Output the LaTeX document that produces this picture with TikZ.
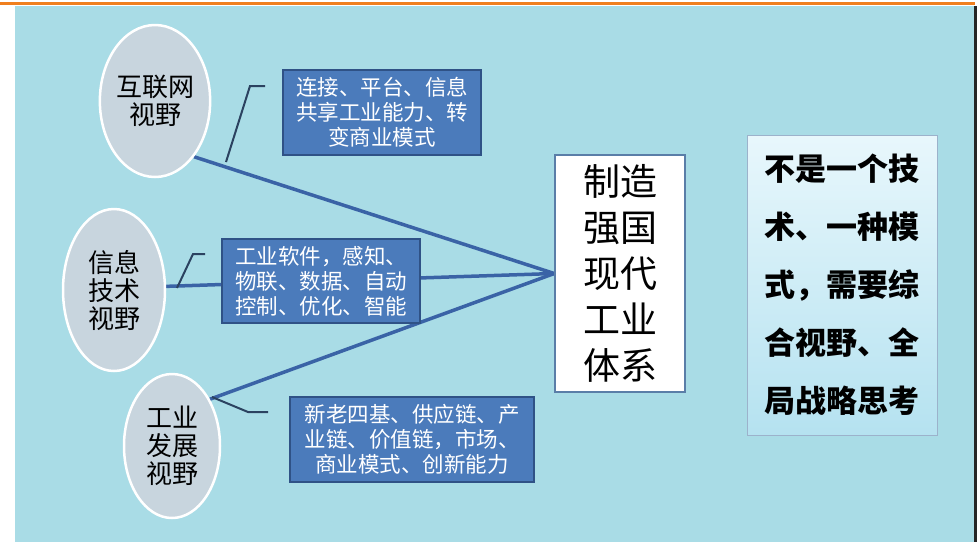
\documentclass[tikz,border=0pt]{standalone}
\usepackage{fontspec}
\newfontfamily\cjk{Noto Sans CJK SC}
\usetikzlibrary{shapes.geometric}
\definecolor{bgcol}{HTML}{A9DCE6}
\definecolor{orangeline}{HTML}{F07F1E}
\definecolor{ellfill}{HTML}{C8D5DE}
\definecolor{boxfill}{HTML}{4B7BBB}
\definecolor{boxedge}{HTML}{2F5286}
\definecolor{linecol}{HTML}{3A63A6}
\definecolor{brackcol}{HTML}{2B4260}
\definecolor{cedge}{HTML}{5A7EA8}
\definecolor{rtop}{HTML}{E8F7FC}
\definecolor{rbot}{HTML}{B5E2F0}
\pgfdeclarelayer{back}
\pgfdeclarelayer{lines}
\pgfsetlayers{back,lines,main}
\tikzset{
  persp/.style={ellipse, draw=white, line width=2.5pt, fill=ellfill, inner sep=0pt,
    align=center, text=black, font=\cjk\fontsize{26}{28}\selectfont},
  bluebox/.style={rectangle, draw=boxedge, line width=1.5pt, fill=boxfill, inner sep=0pt,
    text=white, font=\cjk\fontsize{21.5}{25}\selectfont},
  conn/.style={draw=linecol, line width=3.5pt},
  brack/.style={draw=brackcol, line width=2pt},
}
\begin{document}
\begin{tikzpicture}[x=1pt,y=-1pt]
\useasboundingbox (0,0) rectangle (979,542);
\begin{pgfonlayer}{back}
\fill[white] (0,0) rectangle (979,542);
\fill[bgcol] (15,6) rectangle (974,542);
\fill[black!85] (974,6) rectangle (977,542);
\draw[orangeline, line width=3pt] (0,3.5) -- (975,3.5);
\end{pgfonlayer}

% perspectives
\node[persp, minimum width=104pt, minimum height=152pt] (e1) at (155,101) {互联网\\视野};
\node[persp, minimum width=102pt, minimum height=162pt] (e2) at (114,290) {信息\\技术\\视野};
\node[persp, minimum width=96pt, minimum height=144pt] (e3) at (172,446) {工业\\发展\\视野};

% blue boxes
\node[bluebox, minimum width=198pt, minimum height=85pt, align=center] (b1) at (382,112.5)
  {连接、平台、信息\\共享工业能力、转\\变商业模式};
\node[bluebox, minimum width=198pt, minimum height=84pt, align=left] (b2) at (321,281)
  {工业软件，感知、\\物联、数据、自动\\控制、优化、智能};
\node[bluebox, minimum width=244pt, minimum height=85pt, align=center] (b3) at (412,439.5)
  {新老四基、供应链、产\\业链、价值链，市场、\\商业模式、创新能力};

% centre box
\node[rectangle, draw=cedge, line width=1.5pt, fill=white, minimum width=130pt,
  minimum height=237pt, inner sep=0pt, align=center,
  font=\cjk\fontsize{37}{46}\selectfont] (c) at (620,273.5)
  {制造\\强国\\现代\\工业\\体系};

% right box
\node[rectangle, draw=cedge!60, line width=1pt, top color=rtop, bottom color=rbot,
  minimum width=190pt, minimum height=300pt, inner sep=0pt, align=left,
  font=\cjk\bfseries\fontsize{31}{58}\selectfont] (r) at (842,285)
  {不是一个技\\术、一种模\\式，需要综\\合视野、全\\局战略思考};

% connectors
\begin{pgfonlayer}{lines}
\draw[conn] (e1.-55) -- (c.west);
\draw[conn] (e2.4) -- (c.west);
\draw[conn] (e3.51) -- (c.west);
\coordinate (k1a) at (226,162);
\coordinate (k1b) at (250,86);
\coordinate (k1c) at (265,86);
\coordinate (k2a) at (177,288);
\coordinate (k2b) at (193,254);
\coordinate (k2c) at (205,254);
\coordinate (k3a) at (212,397);
\coordinate (k3b) at (248,412);
\coordinate (k3c) at (268,412);
\draw[brack] (k1a) -- (k1b) -- (k1c);
\draw[brack] (k2a) -- (k2b) -- (k2c);
\draw[brack] (k3a) -- (k3b) -- (k3c);
\end{pgfonlayer}
\end{tikzpicture}
\end{document}
